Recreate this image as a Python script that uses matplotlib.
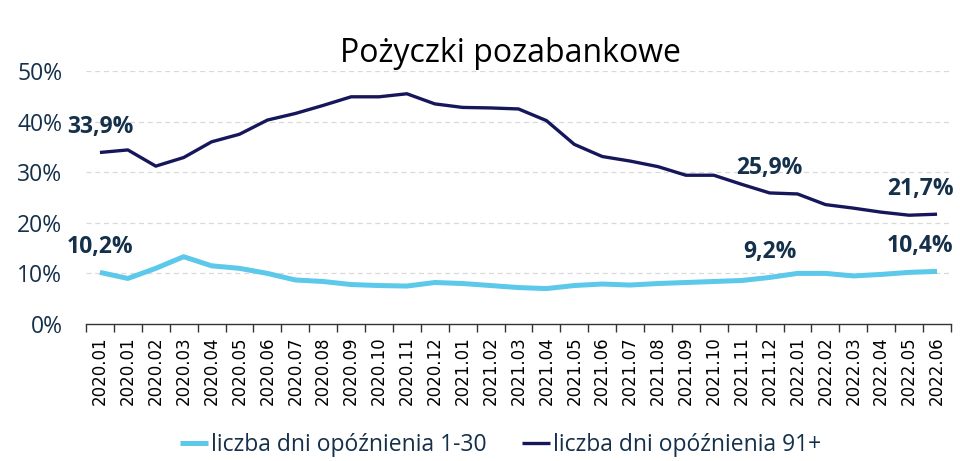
import matplotlib
matplotlib.use("Agg")
import matplotlib.pyplot as plt

labels = ["2020.01", "2020.01", "2020.02", "2020.03", "2020.04", "2020.05", "2020.06",
          "2020.07", "2020.08", "2020.09", "2020.10", "2020.11", "2020.12",
          "2021.01", "2021.02", "2021.03", "2021.04", "2021.05", "2021.06",
          "2021.07", "2021.08", "2021.09", "2021.10", "2021.11", "2021.12",
          "2022.01", "2022.02", "2022.03", "2022.04", "2022.05", "2022.06"]

late_1_30 = [10.2, 9.0, 11.0, 13.3, 11.5, 11.0, 10.0, 8.7, 8.4, 7.8, 7.6, 7.5, 8.2,
             8.0, 7.6, 7.2, 7.0, 7.6, 7.9, 7.7, 8.0, 8.2, 8.4, 8.6, 9.2,
             10.0, 10.0, 9.5, 9.8, 10.2, 10.4]

late_91 = [33.9, 34.4, 31.2, 32.9, 36.0, 37.5, 40.3, 41.6, 43.2, 44.9, 44.9, 45.5, 43.5,
           42.8, 42.7, 42.5, 40.2, 35.5, 33.1, 32.2, 31.1, 29.4, 29.4, 27.6, 25.9,
           25.7, 23.6, 22.9, 22.1, 21.5, 21.7]

yticks = [0, 10, 20, 30, 40, 50]

annot_idx = [0, 24, 30]

light = "#5cc8ea"
dark = "#15175a"
txt = "#14304a"

fig = plt.figure(figsize=(9.6, 4.61), dpi=100)
ax = fig.add_axes([86/960, 1 - 324/461, (951 - 86)/960, (324 - 71)/461])

x = list(range(len(labels)))
ax.plot(x, late_1_30, color=light, lw=3.6, label="liczba dni opóźnienia 1-30", solid_capstyle="butt")
ax.plot(x, late_91, color=dark, lw=2.4, label="liczba dni opóźnienia 91+", solid_capstyle="butt")

ax.set_xlim(-0.5, len(labels) - 0.5)
ax.set_ylim(0, 50)
ax.set_yticks(yticks)
ax.set_yticklabels([f"{v}%" for v in yticks], fontfamily="Open Sans", fontsize=16.5, color=txt)
ax.tick_params(axis="y", length=0, pad=17)

ax.set_xticks(x)
ax.set_xticklabels(labels, rotation=90, fontfamily="DejaVu Sans", fontsize=12, color="black")
ax.set_xticks([i - 0.5 for i in range(len(labels) + 1)], minor=True)
ax.tick_params(axis="x", which="major", length=0, pad=9)
ax.tick_params(axis="x", which="minor", length=6, width=1, color="#333333", direction="out")

for s in ["top", "right", "left"]:
    ax.spines[s].set_visible(False)
ax.spines["bottom"].set_color("#333333")
ax.spines["bottom"].set_linewidth(1)

for v in yticks[1:]:
    ax.axhline(v, color="#d9d9d9", lw=0.9, ls=(0, (4, 3)), zorder=0)

for i in annot_idx:
    dx = -17 if i == len(labels) - 1 else 0
    for series in (late_91, late_1_30):
        val = series[i]
        ax.annotate(f"{val:.1f}%".replace(".", ","), (i, val), xytext=(dx, 25),
                    textcoords="offset pixels", ha="center", va="center",
                    fontfamily="Open Sans", fontweight="bold", fontsize=16.5, color=txt)

fig.text(510/960, 1 - 54/461, "Pożyczki pozabankowe", ha="center", va="center",
         fontfamily="Open Sans", fontsize=23, color="black")

leg = fig.legend(loc="center", bbox_to_anchor=(501/960, 1 - 445/461), ncol=2, frameon=False,
                 prop={"family": "Open Sans", "size": 16.5}, handlelength=1.2,
                 handletextpad=0.15, columnspacing=1.55)
for t in leg.get_texts():
    t.set_color(txt)

fig.savefig("out.png", dpi=100)
